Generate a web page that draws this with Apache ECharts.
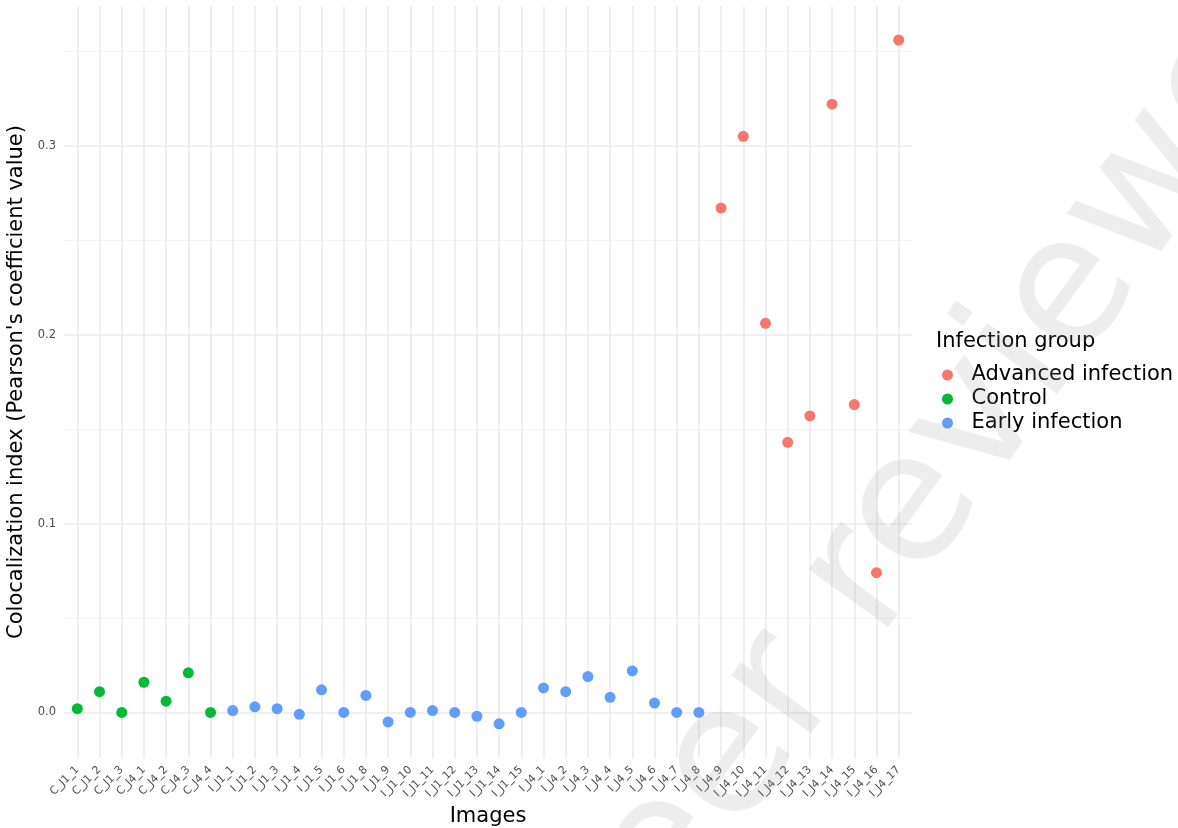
<!DOCTYPE html>
<html>
<head>
<meta charset="utf-8">
<script src="https://cdn.jsdelivr.net/npm/echarts@6/dist/echarts.min.js"></script>
<style>
  html, body { margin: 0; padding: 0; background: #ffffff; }
  #chart { width: 1178px; height: 828px; }
</style>
</head>
<body>
<div id="chart"></div>
<script>
// Image identifiers along the x axis
const images = [
  'C_J1_1', 'C_J1_2', 'C_J1_3', 'C_J4_1', 'C_J4_2', 'C_J4_3', 'C_J4_4',
  'I_J1_1', 'I_J1_2', 'I_J1_3', 'I_J1_4', 'I_J1_5', 'I_J1_6', 'I_J1_8', 'I_J1_9',
  'I_J1_10', 'I_J1_11', 'I_J1_12', 'I_J1_13', 'I_J1_14', 'I_J1_15',
  'I_J4_1', 'I_J4_2', 'I_J4_3', 'I_J4_4', 'I_J4_5', 'I_J4_6', 'I_J4_7', 'I_J4_8',
  'I_J4_9', 'I_J4_10', 'I_J4_11', 'I_J4_12', 'I_J4_13', 'I_J4_14', 'I_J4_15', 'I_J4_16', 'I_J4_17'
];

// Pearson's coefficient per image
const colocalization = [
  0.002, 0.011, 0.000, 0.016, 0.006, 0.021, 0.000,
  0.001, 0.003, 0.002, -0.001, 0.012, 0.000, 0.009, -0.005,
  0.000, 0.001, 0.000, -0.002, -0.006, 0.000,
  0.013, 0.011, 0.019, 0.008, 0.022, 0.005, 0.000, 0.000,
  0.267, 0.305, 0.206, 0.143, 0.157, 0.322, 0.163, 0.074, 0.356
];

// Infection group of each image
const groupOf = [
  'Control', 'Control', 'Control', 'Control', 'Control', 'Control', 'Control',
  'Early infection', 'Early infection', 'Early infection', 'Early infection', 'Early infection',
  'Early infection', 'Early infection', 'Early infection', 'Early infection', 'Early infection',
  'Early infection', 'Early infection', 'Early infection', 'Early infection',
  'Early infection', 'Early infection', 'Early infection', 'Early infection', 'Early infection',
  'Early infection', 'Early infection', 'Early infection',
  'Advanced infection', 'Advanced infection', 'Advanced infection', 'Advanced infection',
  'Advanced infection', 'Advanced infection', 'Advanced infection', 'Advanced infection',
  'Advanced infection'
];

const groupNames = ['Advanced infection', 'Control', 'Early infection'];
const groupColors = ['#F8766D', '#00BA38', '#619CFF'];

const yMajorTicks = [0, 0.1, 0.2, 0.3];
const yMinorTicks = [0.05, 0.15, 0.25, 0.35];

const FONT = 'DejaVu Sans';
const Y_MIN = -0.0241;
const Y_MAX = 0.374;

const xIndex = images.map((_, i) => i);

const series = groupNames.map((g, k) => ({
  name: g,
  type: 'scatter',
  xAxisIndex: 0,
  yAxisIndex: 0,
  symbol: 'circle',
  symbolSize: 11,
  itemStyle: { color: groupColors[k], opacity: 1 },
  emphasis: { disabled: true },
  data: images
    .map((_, i) => (groupOf[i] === g ? [i, colocalization[i]] : null))
    .filter(d => d !== null)
}));

const chart = echarts.init(document.getElementById('chart'), null, { renderer: 'canvas' });

chart.setOption({
  backgroundColor: '#ffffff',
  animation: false,
  textStyle: { fontFamily: FONT },
  grid: { left: 64, right: 266, top: 6, bottom: 70, outerBoundsMode: 'none' },
  xAxis: {
    type: 'value',
    min: -0.6,
    max: images.length - 1 + 0.6,
    name: 'Images',
    nameLocation: 'middle',
    nameGap: 47,
    nameTextStyle: { fontFamily: FONT, fontSize: 21, color: '#000000' },
    axisLine: { show: false },
    axisTick: { show: false, customValues: xIndex },
    axisLabel: {
      customValues: xIndex,
      formatter: v => images[v],
      rotate: 45,
      margin: 10,
      fontFamily: FONT,
      fontSize: 11,
      color: '#4d4d4d'
    },
    splitLine: { show: true, lineStyle: { color: '#ebebeb', width: 1.6 } }
  },
  yAxis: [
    {
      type: 'value',
      min: Y_MIN,
      max: Y_MAX,
      name: "Colocalization index (Pearson's coefficient value)",
      nameLocation: 'middle',
      nameGap: 30,
      nameTextStyle: { fontFamily: FONT, fontSize: 21, color: '#000000' },
      axisLine: { show: false },
      axisTick: { show: false, customValues: yMajorTicks },
      axisLabel: {
        customValues: yMajorTicks,
        formatter: v => v.toFixed(1),
        margin: 8,
        fontFamily: FONT,
        fontSize: 11.5,
        color: '#4d4d4d'
      },
      splitLine: { show: true, lineStyle: { color: '#ebebeb', width: 1.6 } }
    },
    {
      type: 'value',
      min: Y_MIN,
      max: Y_MAX,
      position: 'left',
      axisLine: { show: false },
      axisTick: { show: false, customValues: yMinorTicks },
      axisLabel: { show: false, customValues: yMinorTicks },
      splitLine: { show: true, lineStyle: { color: '#f3f3f3', width: 1.1 } }
    }
  ],
  legend: {
    orient: 'vertical',
    left: 942,
    top: 363,
    padding: 0,
    itemGap: 0,
    itemWidth: 38,
    itemHeight: 11,
    icon: 'circle',
    selectedMode: false,
    data: groupNames,
    textStyle: { fontFamily: FONT, fontSize: 21, color: '#000000', lineHeight: 24 }
  },
  graphic: [
    {
      type: 'text',
      x: 936,
      y: 342,
      style: {
        text: 'Infection group',
        font: '21px "DejaVu Sans"',
        fill: '#000000',
        align: 'left',
        verticalAlign: 'middle'
      },
      z: 10
    },
    {
      type: 'text',
      x: 948,
      y: 465,
      rotation: 54 * Math.PI / 180,
      silent: true,
      style: {
        text: 'Peer reviewed',
        font: '180px "DejaVu Sans"',
        fill: 'rgba(150,150,150,0.17)',
        align: 'center',
        verticalAlign: 'middle'
      },
      z: 100
    }
  ],
  series: series
});
</script>
</body>
</html>
